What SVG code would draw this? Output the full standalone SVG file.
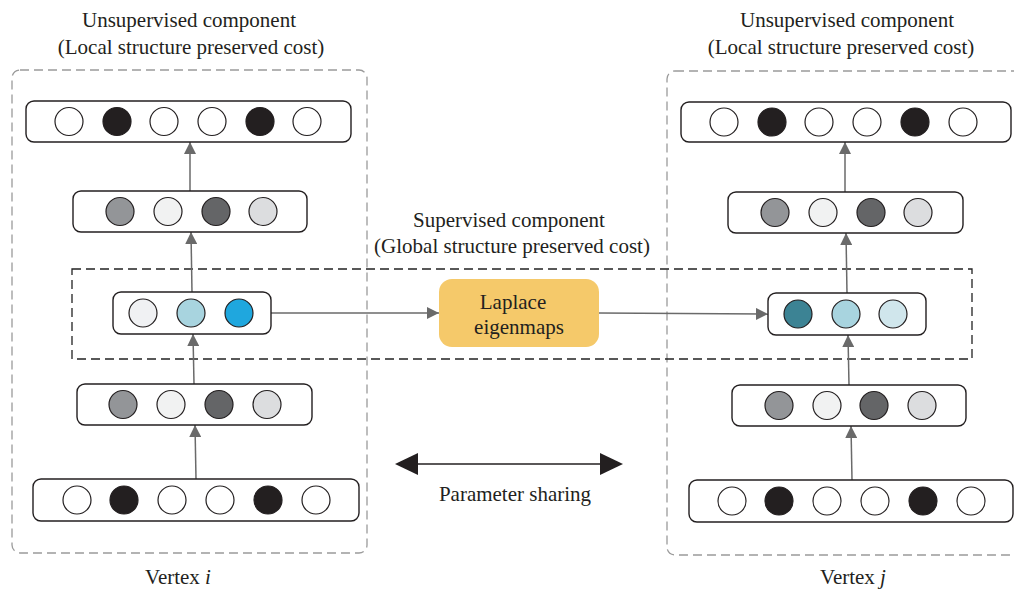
<svg xmlns="http://www.w3.org/2000/svg" width="1014" height="589" viewBox="0 0 1014 589">
<style>
text{font-family:"Liberation Serif","Times New Roman",serif;font-size:21px;fill:#231f20;text-anchor:middle}
.outer{fill:none;stroke:#9a9a9a;stroke-width:1.3;stroke-dasharray:9 5}
.sup{fill:none;stroke:#222;stroke-width:1.3;stroke-dasharray:9 5}
.row{fill:#fff;stroke:#231f20;stroke-width:1.4}
.c{stroke:#231f20;stroke-width:1.2}
.w{fill:#fff}.k{fill:#231f20}
.g1{fill:#939598}.g2{fill:#f1f2f2}.g3{fill:#646567}.g4{fill:#dcdddf}
.b1{fill:#f0f1f3}.b2{fill:#a8d4df}.b3{fill:#1fa7de}.t1{fill:#3c8394}.t3{fill:#d0e6ec}
.con{stroke:#6a6a6a;stroke-width:1.5;fill:none;marker-end:url(#ah)}
</style>
<defs>
<marker id="ah" markerUnits="userSpaceOnUse" markerWidth="12" markerHeight="12" viewBox="0 0 12 12" refX="12" refY="6" orient="auto"><path d="M0,0 L12,6 L0,12 Z" fill="#6a6a6a"/></marker>
</defs>

<g id="frames">
<rect class="outer" x="12" y="70" width="355" height="483" rx="8"/>
<rect class="outer" x="667" y="71" width="357" height="484" rx="8"/>
<rect class="sup" x="72" y="269" width="900" height="90"/>
</g>

<g id="labels">
<text x="189" y="27">Unsupervised component</text>
<text x="191" y="54">(Local structure preserved cost)</text>
<text x="847" y="27">Unsupervised component</text>
<text x="841" y="54">(Local structure preserved cost)</text>
<text x="509" y="227">Supervised component</text>
<text x="512" y="253">(Global structure preserved cost)</text>
<text x="178" y="584">Vertex <tspan font-style="italic">i</tspan></text>
<text x="853" y="584">Vertex <tspan font-style="italic">j</tspan></text>
<text x="515" y="501">Parameter sharing</text>
</g>

<g id="connectors">
<line class="con" x1="190" y1="191" x2="190" y2="142"/>
<line class="con" x1="192" y1="292" x2="191" y2="232"/>
<line class="con" x1="194" y1="384" x2="193" y2="334"/>
<line class="con" x1="196" y1="479" x2="195" y2="425"/>
<line class="con" x1="271" y1="313" x2="439" y2="313"/>
<line class="con" x1="599" y1="313" x2="768" y2="314"/>
<line class="con" x1="845" y1="192" x2="845" y2="142"/>
<line class="con" x1="847" y1="293" x2="846" y2="233"/>
<line class="con" x1="849" y1="385" x2="848" y2="335"/>
<line class="con" x1="852" y1="480" x2="851" y2="426"/>
<g id="param-sharing">
<line x1="415" y1="464" x2="603" y2="464" stroke="#231f20" stroke-width="1.5"/>
<path d="M395,464 L418,453 L418,475 Z" fill="#231f20"/>
<path d="M623,464 L600,453 L600,475 Z" fill="#231f20"/>
</g>
</g>

<g id="left-out">
<rect class="row" x="26" y="101" width="325" height="41" rx="8"/>
<circle class="c w" cx="69" cy="121.5" r="14"/><circle class="c k" cx="117" cy="121.5" r="14"/><circle class="c w" cx="164" cy="121.5" r="14"/><circle class="c w" cx="212" cy="121.5" r="14"/><circle class="c k" cx="260" cy="121.5" r="14"/><circle class="c w" cx="307" cy="121.5" r="14"/>
</g>
<g id="left-hid2">
<rect class="row" x="73" y="191" width="234" height="41" rx="8"/>
<circle class="c g1" cx="120" cy="211.5" r="14"/><circle class="c g2" cx="168" cy="211.5" r="14"/><circle class="c g3" cx="216" cy="211.5" r="14"/><circle class="c g4" cx="263" cy="211.5" r="14"/>
</g>
<g id="left-emb">
<rect class="row" x="113" y="292" width="158" height="42" rx="8"/>
<circle class="c b1" cx="143" cy="313" r="14"/><circle class="c b2" cx="191" cy="313" r="14"/><circle class="c b3" cx="239" cy="313" r="14"/>
</g>
<g id="left-hid1">
<rect class="row" x="77" y="384" width="235" height="41" rx="8"/>
<circle class="c g1" cx="123" cy="404.5" r="14"/><circle class="c g2" cx="171" cy="404.5" r="14"/><circle class="c g3" cx="219" cy="404.5" r="14"/><circle class="c g4" cx="267" cy="404.5" r="14"/>
</g>
<g id="left-in">
<rect class="row" x="33" y="479" width="326" height="42" rx="8"/>
<circle class="c w" cx="77" cy="500" r="14"/><circle class="c k" cx="124" cy="500" r="14"/><circle class="c w" cx="172" cy="500" r="14"/><circle class="c w" cx="220" cy="500" r="14"/><circle class="c k" cx="268" cy="500" r="14"/><circle class="c w" cx="316" cy="500" r="14"/>
</g>

<g id="laplace">
<rect x="439" y="279" width="160" height="68" rx="13" fill="#f5c96a"/>
<text x="513" y="309">Laplace</text>
<text x="519" y="334">eigenmaps</text>
</g>

<g id="right-out">
<rect class="row" x="681" y="102" width="330" height="40" rx="8"/>
<circle class="c w" cx="724" cy="122" r="14"/><circle class="c k" cx="772" cy="122" r="14"/><circle class="c w" cx="819" cy="122" r="14"/><circle class="c w" cx="867" cy="122" r="14"/><circle class="c k" cx="915" cy="122" r="14"/><circle class="c w" cx="963" cy="122" r="14"/>
</g>
<g id="right-hid2">
<rect class="row" x="728" y="192" width="235" height="41" rx="8"/>
<circle class="c g1" cx="775" cy="212.5" r="14"/><circle class="c g2" cx="823" cy="212.5" r="14"/><circle class="c g3" cx="871" cy="212.5" r="14"/><circle class="c g4" cx="918" cy="212.5" r="14"/>
</g>
<g id="right-emb">
<rect class="row" x="768" y="293" width="158" height="42" rx="8"/>
<circle class="c t1" cx="798" cy="314" r="14"/><circle class="c b2" cx="846" cy="314" r="14"/><circle class="c t3" cx="893" cy="314" r="14"/>
</g>
<g id="right-hid1">
<rect class="row" x="732" y="385" width="234" height="41" rx="8"/>
<circle class="c g1" cx="779" cy="405.5" r="14"/><circle class="c g2" cx="827" cy="405.5" r="14"/><circle class="c g3" cx="874" cy="405.5" r="14"/><circle class="c g4" cx="922" cy="405.5" r="14"/>
</g>
<g id="right-in">
<rect class="row" x="689" y="480" width="324" height="42" rx="8"/>
<circle class="c w" cx="732" cy="501" r="14"/><circle class="c k" cx="779" cy="501" r="14"/><circle class="c w" cx="827" cy="501" r="14"/><circle class="c w" cx="875" cy="501" r="14"/><circle class="c k" cx="923" cy="501" r="14"/><circle class="c w" cx="971" cy="501" r="14"/>
</g>
</svg>
